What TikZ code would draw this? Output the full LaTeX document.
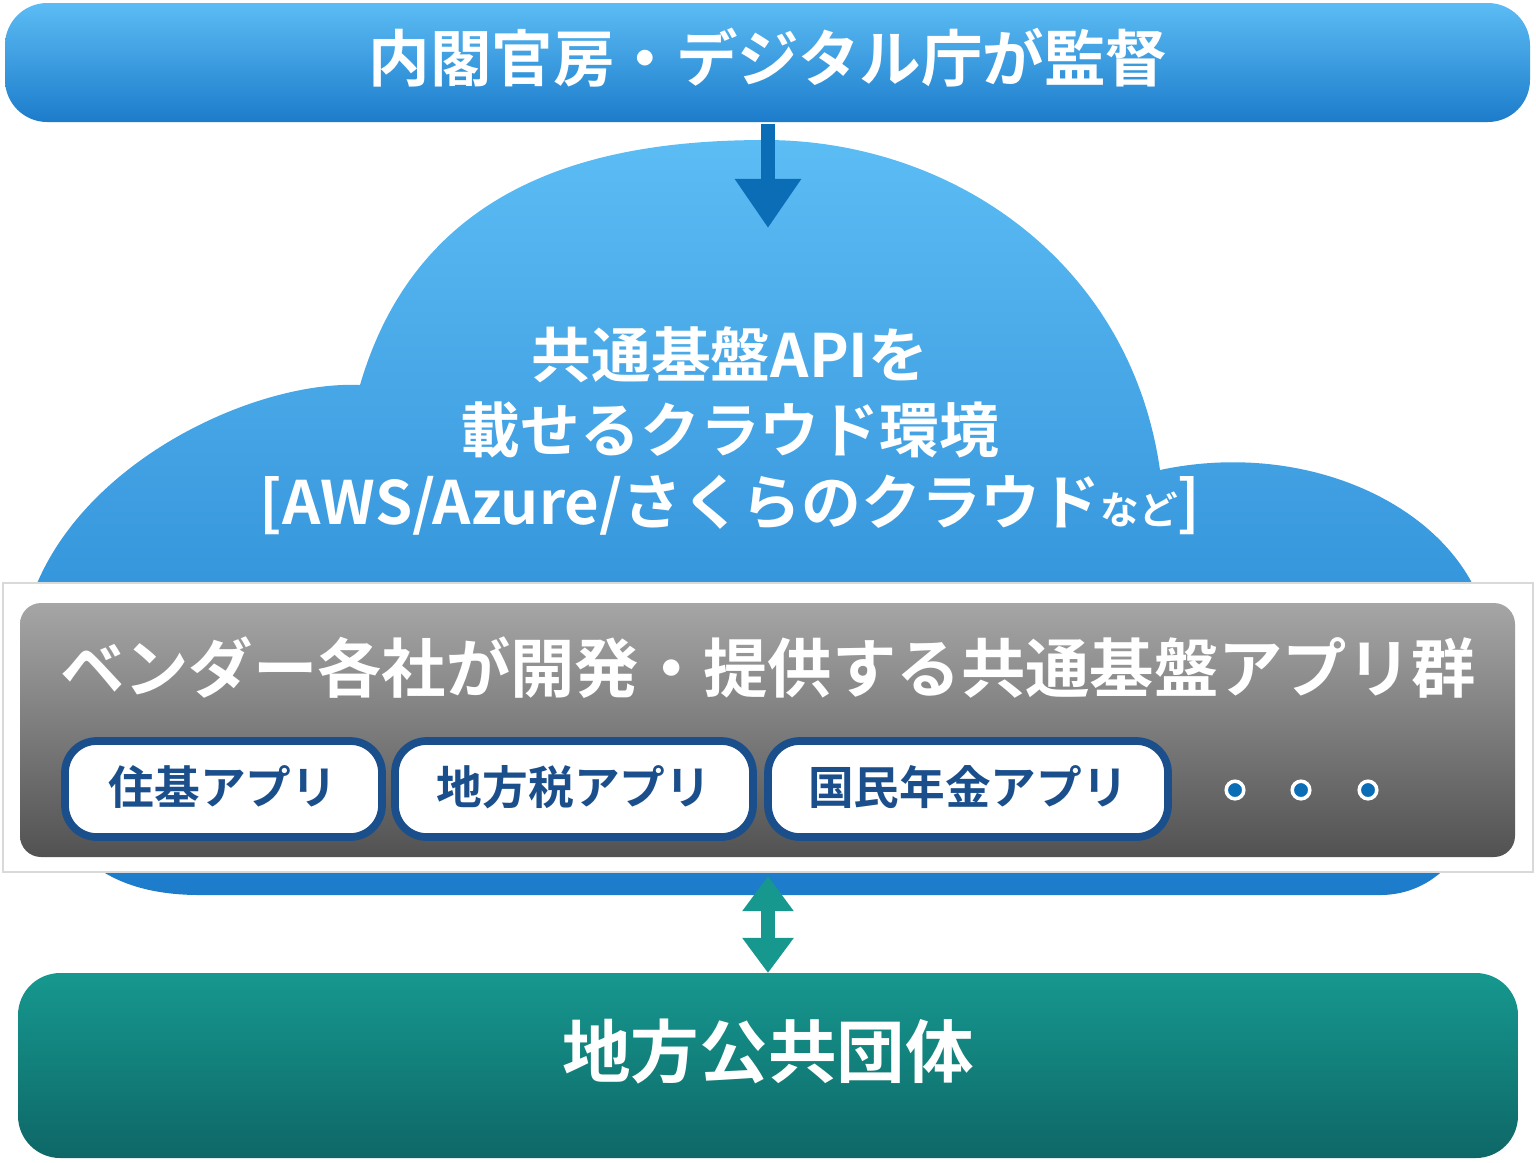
\documentclass[tikz,border=0pt]{standalone}
\usepackage{fontspec}
\setmainfont{Noto Sans CJK JP}[BoldFont={Noto Sans CJK JP Bold}]
\usetikzlibrary{arrows.meta,shadows}
\definecolor{bluetop}{HTML}{5CBCF4}
\definecolor{bluebot}{HTML}{1C7CCB}
\definecolor{arrowblue}{HTML}{0B6DB5}
\definecolor{tealtop}{HTML}{16988F}
\definecolor{tealbot}{HTML}{0E6767}
\definecolor{appblue}{HTML}{1B4F8C}
\tikzset{
  bar/.style={rounded corners=12pt},
  wtxt/.style={text=white,font=\bfseries},
  appframe/.style={draw=appblue,line width=2.2pt,fill=white,rounded corners=9pt},
  apptxt/.style={text=appblue,font=\bfseries\fontsize{13}{15}\selectfont},
  cloudtxt/.style={text=white,font=\bfseries\fontsize{17}{19}\selectfont},
  dot/.style={circle,fill=arrowblue,draw=white,line width=1pt,minimum size=5pt,inner sep=0pt},
}
\begin{document}
\begin{tikzpicture}[x=0.01cm,y=-0.01cm]
\useasboundingbox (0,0) rectangle (1536,1162);
% top bar
\shade[bar,top color=bluetop,bottom color=bluebot] (5,3) rectangle (1530,122);
\node[wtxt,font=\bfseries\fontsize{17.5}{20}\selectfont] (top) at (768,58) {内閣官房・デジタル庁が監督};
\coordinate (topb) at (768,124);
\coordinate (cl) at (768,228);
% cloud
\shade[top color=bluetop,bottom color=bluebot]
 (200,895) .. controls (60,895) and (20,800) .. (25,620)
 .. controls (60,470) and (250,380) .. (360,385)
 .. controls (420,180) and (600,140) .. (765,140)
 .. controls (950,140) and (1130,260) .. (1160,470)
 .. controls (1300,440) and (1440,500) .. (1480,600)
 .. controls (1520,800) and (1460,895) .. (1380,895) -- cycle;
\draw[arrowblue,line width=4pt,-{Triangle[length=14pt,width=18pt]}] (topb) -- (cl);
\node[cloudtxt] (c1) at (730,355) {共通基盤APIを};
\node[cloudtxt] (c2) at (730,430) {載せるクラウド環境};
\node[cloudtxt] (c3) at (730,505) {[AWS/Azure/さくらのクラウド{\fontsize{11}{12}\selectfont など}]};
% white and gray boxes
\fill[white] (3,583) rectangle (1533,872);
\draw[gray!30] (3,583) rectangle (1533,872);
\shade[rounded corners=6pt,top color=black!35,bottom color=black!68] (20,603) rectangle (1515,857);
\node[wtxt,font=\bfseries\fontsize{18.3}{20}\selectfont] (g) at (768,668) {ベンダー各社が開発・提供する共通基盤アプリ群};
\draw[appframe] (65,741) rectangle (382,837);
\draw[appframe] (395,741) rectangle (753,837);
\draw[appframe] (768,741) rectangle (1168,837);
\node[apptxt] (t1) at (223,787) {住基アプリ};
\node[apptxt] (t2) at (574,787) {地方税アプリ};
\node[apptxt] (t3) at (968,787) {国民年金アプリ};
\node[dot] (d1) at (1235,790) {};
\node[dot] (d2) at (1301,790) {};
\node[dot] (d3) at (1368,790) {};
% bottom bar
\shade[bar,top color=tealtop,bottom color=tealbot] (18,973) rectangle (1518,1158);
\node[wtxt,font=\bfseries\fontsize{19.5}{22}\selectfont] (bot) at (768,1052) {地方公共団体};
\coordinate (u) at (768,876);
\coordinate (v) at (768,973);
\draw[tealtop,line width=4pt,{Triangle[length=10pt,width=14pt]}-{Triangle[length=10pt,width=14pt]}] (u) -- (v);
\end{tikzpicture}
\end{document}
